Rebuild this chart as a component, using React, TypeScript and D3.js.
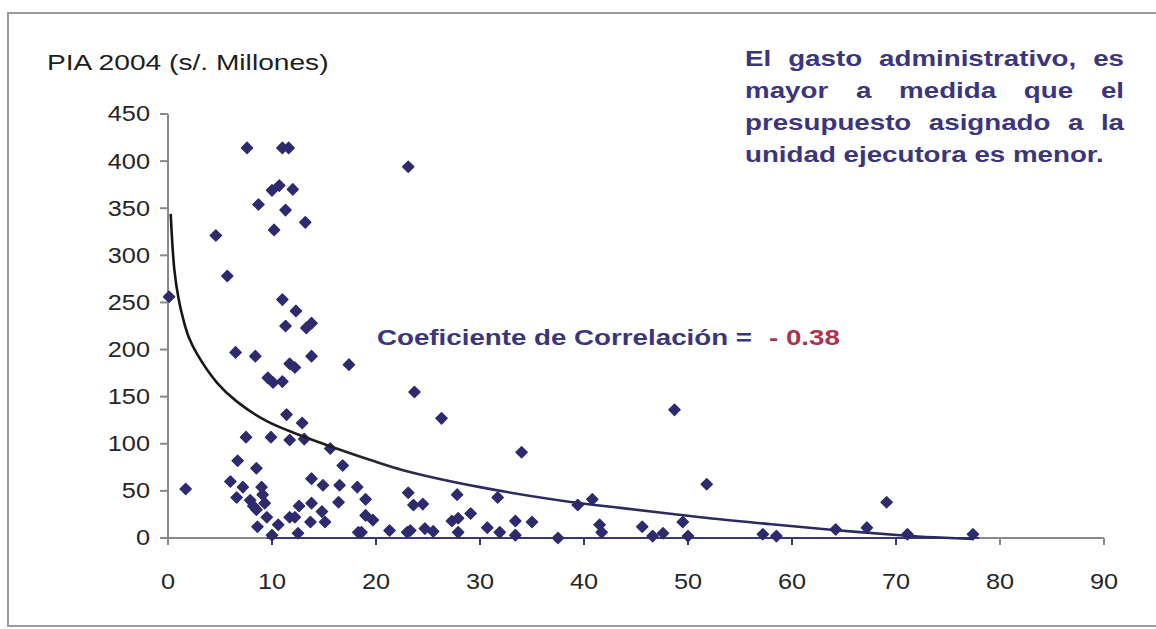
import React, { useLayoutEffect, useRef, useState } from 'react';
import * as d3 from 'd3';

// Scatter values: x = % gasto administrativo (approx.), y = PIA 2004 (S/. millones)
const pointX = [
  7.6, 11.0, 11.6, 23.1, 10.0, 10.7, 12.0, 8.7, 11.3, 13.2, 10.2, 4.6, 5.7, 0.1, 11.0, 12.3,
  11.3, 13.3, 13.8, 6.5, 8.4, 13.8, 11.7, 12.2, 17.4, 9.6, 10.1, 11.0, 11.4, 12.9, 7.5, 9.9,
  11.7, 13.1, 15.6, 6.7, 8.5, 16.8, 1.7, 6.0, 7.2, 6.6, 7.9, 9.0, 9.1, 8.5, 9.3, 9.5,
  8.6, 10.6, 11.7, 12.2, 13.8, 14.9, 16.5, 18.2, 16.4, 19.0, 13.8, 12.6, 14.8, 15.1, 13.7, 10.0,
  18.3, 18.6, 19.0, 19.7, 8.2, 21.3, 23.1, 23.6, 24.5, 27.8, 29.1, 27.3, 27.9, 27.9, 23.3, 23.0,
  24.7, 25.5, 31.7, 30.7, 31.9, 33.4, 35.0, 33.4, 37.5, 39.4, 40.8, 41.5, 41.7, 23.7, 26.3, 34.0,
  48.7, 51.8, 69.1, 49.5, 45.6, 46.6, 47.6, 50.0, 57.2, 58.5, 64.2, 67.2, 71.1, 77.4, 12.5,
];
const pointY = [
  414, 414, 414, 394, 369, 374, 370, 354, 348, 335, 327, 321, 278, 256, 253, 241,
  225, 223, 228, 197, 193, 193, 185, 181, 184, 170, 165, 166, 131, 122, 107, 107,
  104, 105, 95, 82, 74, 77, 52, 60, 54, 43, 40, 54, 46, 30, 37, 22,
  12, 14, 22, 22, 63, 56, 56, 54, 38, 41, 37, 34, 28, 17, 17, 3,
  6, 6, 24, 19, 34, 8, 48, 35, 36, 46, 26, 18, 21, 6, 8, 6,
  10, 7, 43, 11, 6, 18, 17, 3, 0, 35, 41, 14, 6, 155, 127, 91,
  136, 57, 38, 17, 12, 2, 5, 2, 4, 2, 9, 11, 4, 4, 5,
];

// Trend line
const trendX = [0.26, 0.6, 1.0, 1.47, 2.0, 2.76, 4.7, 6.6, 9.5, 12.7, 16.2, 19.4, 22.6, 30, 38.9, 43.5, 51.2, 57.6, 64, 70.4, 73.6, 77.5];
const trendY = [344, 286, 255, 232, 213, 196, 165, 145, 124, 109, 95, 83, 72, 54, 38, 32, 22, 15, 8.5, 3, 0.8, -1];

const xTicks = [0, 10, 20, 30, 40, 50, 60, 70, 80, 90];
const yTicks = [0, 50, 100, 150, 200, 250, 300, 350, 400, 450];

const titleText = 'PIA 2004 (s/. Millones)';
const noteLines = [
  'El gasto administrativo, es',
  'mayor a medida que el',
  'presupuesto asignado a la',
  'unidad ejecutora es menor.',
];
const coefLabel = 'Coeficiente de Correlación =';
const coefValue = '- 0.38';

const INDIGO = '#3b357c';
const DOT = '#2f2a6e';
const RED = '#a8354f';
const AXIS = '#8a8a8a';
const FONT = '"Liberation Sans", Arial, sans-serif';

function JustLine({ text, x, y, width, sx, justify }: { text: string; x: number; y: number; width: number; sx: number; justify: boolean }) {
  const ref = useRef<SVGTextElement>(null);
  const [ws, setWs] = useState(0);
  useLayoutEffect(() => {
    if (!justify || !ref.current) return;
    const natural = ref.current.getComputedTextLength();
    const spaces = text.split(' ').length - 1;
    if (spaces > 0) setWs((width / sx - natural) / spaces);
  }, []);
  return (
    <g transform={`translate(${x},${y}) scale(${sx},1)`}>
      <text
        ref={ref}
        x={0}
        y={0}
        fontFamily={FONT}
        fontWeight="bold"
        fontSize={22}
        fill={INDIGO}
        style={{ wordSpacing: `${ws}px` }}
      >
        {text}
      </text>
    </g>
  );
}

export default function App() {
  const W = 1156;
  const H = 629;
  const x = d3.scaleLinear().domain([0, 90]).range([168, 1104]);
  const y = d3.scaleLinear().domain([0, 450]).range([538, 114]);

  const diamond = d3.symbol().type(d3.symbolSquare).size(62)() as string;

  const trendData = trendX.map((v, i) => [v, trendY[i]] as [number, number]);
  const trendPath = d3
    .line<[number, number]>()
    .x((d) => x(d[0]))
    .y((d) => y(d[1]))
    .curve(d3.curveCatmullRom.alpha(0.5))(trendData) as string;

  const noteBaselines = [66, 98, 130, 162];

  return (
    <svg width={W} height={H} style={{ position: 'absolute', left: 0, top: 0, background: '#fff' }}>
      <defs>
        <linearGradient id="trendGrad" gradientUnits="userSpaceOnUse" x1={x(0)} y1={0} x2={x(80)} y2={0}>
          <stop offset="0" stopColor="#151515" />
          <stop offset="0.22" stopColor="#222222" />
          <stop offset="0.32" stopColor="#2d2a62" />
          <stop offset="1" stopColor="#2d2a62" />
        </linearGradient>
      </defs>
      <rect x={0} y={0} width={W} height={H} fill="#fff" />
      {/* frame */}
      <rect x={8} y={13} width={W + 20} height={613} fill="none" stroke="#9a9a9a" strokeWidth={2} />

      {/* title */}
      <g transform={`translate(47,70) scale(1.28,1)`}>
        <text fontFamily={FONT} fontSize={22} fill="#1e1e1e">{titleText}</text>
      </g>

      {/* y axis */}
      <line x1={x(0)} x2={x(0)} y1={y(450)} y2={y(0) + 5} stroke={AXIS} strokeWidth={2} />
      {yTicks.map((t) => (
        <g key={`yt${t}`}>
          <line x1={x(0) - 8} x2={x(0)} y1={y(t)} y2={y(t)} stroke={AXIS} strokeWidth={2} />
          <g transform={`translate(150,${y(t)}) scale(1.15,1)`}>
            <text textAnchor="end" dominantBaseline="central" fontFamily={FONT} fontSize={22} fill="#262626">
              {t}
            </text>
          </g>
        </g>
      ))}

      {/* x axis */}
      <line x1={x(0)} x2={x(90)} y1={y(0)} y2={y(0)} stroke={AXIS} strokeWidth={2} />
      <line x1={x(9.5)} x2={x(78)} y1={y(0)} y2={y(0)} stroke={INDIGO} strokeWidth={2} />
      {xTicks.map((t) => (
        <g key={`xt${t}`}>
          <line
            x1={x(t)}
            x2={x(t)}
            y1={y(0)}
            y2={y(0) + 7}
            stroke={t >= 10 && t <= 70 ? INDIGO : AXIS}
            strokeWidth={2}
          />
          <g transform={`translate(${x(t)},582) scale(1.15,1)`}>
            <text textAnchor="middle" dominantBaseline="central" fontFamily={FONT} fontSize={22} fill="#262626">
              {t}
            </text>
          </g>
        </g>
      ))}

      {/* points */}
      {pointX.map((v, i) => (
        <path
          key={`p${i}`}
          d={diamond}
          transform={`translate(${x(v)},${y(pointY[i])}) rotate(45)`}
          fill={DOT}
          stroke={DOT}
          strokeWidth={1.4}
          strokeLinejoin="round"
        />
      ))}

      {/* trend line */}
      <path d={trendPath} fill="none" stroke="url(#trendGrad)" strokeWidth={2.6} />

      {/* correlation label */}
      <g transform={`translate(377,345) scale(1.26,1)`}>
        <text fontFamily={FONT} fontWeight="bold" fontSize={22} fill={INDIGO}>{coefLabel}</text>
      </g>
      <g transform={`translate(769,345) scale(1.26,1)`}>
        <text fontFamily={FONT} fontWeight="bold" fontSize={22} fill={RED}>{coefValue}</text>
      </g>

      {/* note */}
      {noteLines.map((line, i) => (
        <JustLine
          key={`n${i}`}
          text={line}
          x={745}
          y={noteBaselines[i]}
          width={379}
          sx={1.26}
          justify={i < noteLines.length - 1}
        />
      ))}
    </svg>
  );
}
